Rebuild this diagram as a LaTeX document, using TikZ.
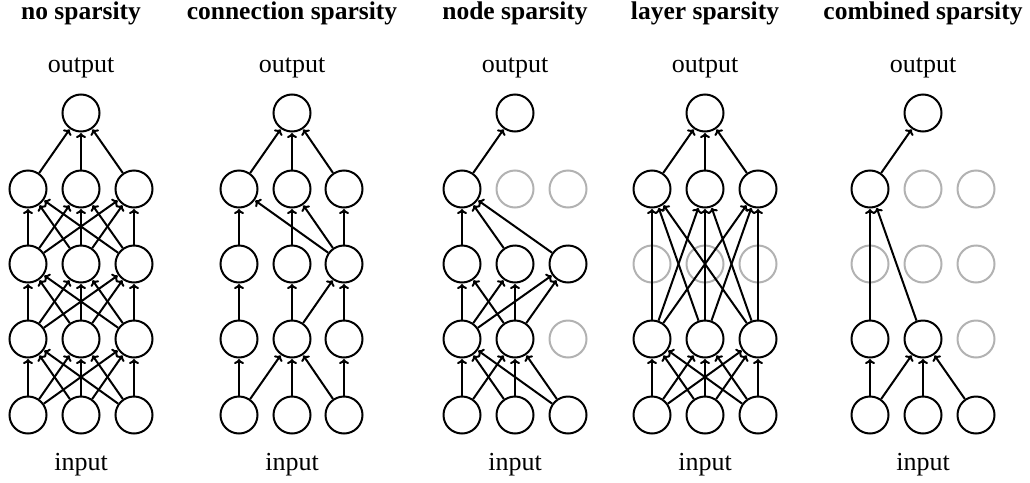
\documentclass[tikz,border=0pt]{standalone}
\usepackage{fontspec}
\setmainfont{Liberation Serif}
\usetikzlibrary{arrows.meta}
\begin{document}
\begin{tikzpicture}
    [%%%%%%%%%%%%%%%%%%%%%%%%%%%%%%
        x=1pt, y=-1pt,
        on/.style={circle,draw=black,line width=2pt,minimum size=37pt,inner sep=0pt},
        off/.style={on,draw=black!30},
        link/.style={line width=2pt,-{To[length=5pt,width=10pt]},shorten >=0.5pt},
        head/.style={font=\fontsize{25.5}{30}\selectfont\bfseries,anchor=base,inner sep=0pt},
        label/.style={font=\fontsize{26}{30}\selectfont,anchor=base,inner sep=0pt},
    ]%%%%%%%%%%%%%%%%%%%%%%%%%%%%%%
\useasboundingbox (0,0) rectangle (1030,482);

% titles and io labels
\foreach \p/\cx/\t in {a/81/no sparsity,b/292/connection sparsity,c/515/node sparsity,d/705/layer sparsity,e/923/combined sparsity}{
    \node[head] (\p head) at (\cx,19) {\t};
    \node[label] (\p outtext) at (\cx,72) {output};
    \node[label] (\p intext) at (\cx,470) {input};
    \node[on] (\p4) at (\cx,113) {};
}

% no sparsity
\foreach \r/\y/\sa/\sb/\sc in {0/415/on/on/on,1/339/on/on/on,2/264/on/on/on,3/189/on/on/on}{
    \node[\sa] (a\r1) at (28,\y) {};
    \node[\sb] (a\r2) at (81,\y) {};
    \node[\sc] (a\r3) at (134,\y) {};
}
\foreach \r/\q in {0/1,1/2,2/3}
    \foreach \i in {1,2,3}
        \foreach \j in {1,2,3}
            \draw[link] (a\r\i) -- (a\q\j);
\foreach \i in {1,2,3} \draw[link] (a3\i) -- (a4);

% connection sparsity
\foreach \r/\y/\sa/\sb/\sc in {0/415/on/on/on,1/339/on/on/on,2/264/on/on/on,3/189/on/on/on}{
    \node[\sa] (b\r1) at (239,\y) {};
    \node[\sb] (b\r2) at (292,\y) {};
    \node[\sc] (b\r3) at (344,\y) {};
}
\foreach \s/\t in {b01/b11,b01/b12,b02/b12,b03/b12,b03/b13,
                   b11/b21,b12/b22,b12/b23,b13/b23,
                   b21/b31,b22/b32,b23/b31,b23/b32,b23/b33,
                   b31/b4,b32/b4,b33/b4}
    \draw[link] (\s) -- (\t);

% node sparsity
\foreach \r/\y/\sa/\sb/\sc in {0/415/on/on/on,1/339/on/on/off,2/264/on/on/on,3/189/on/off/off}{
    \node[\sa] (c\r1) at (462,\y) {};
    \node[\sb] (c\r2) at (515,\y) {};
    \node[\sc] (c\r3) at (568,\y) {};
}
\foreach \s/\t in {c01/c11,c01/c12,c02/c11,c02/c12,c03/c11,c03/c12,
                   c11/c21,c11/c22,c11/c23,c12/c21,c12/c22,c12/c23,
                   c21/c31,c22/c31,c23/c31,c31/c4}
    \draw[link] (\s) -- (\t);

% layer sparsity
\foreach \r/\y/\sa/\sb/\sc in {0/415/on/on/on,1/339/on/on/on,2/264/off/off/off,3/189/on/on/on}{
    \node[\sa] (d\r1) at (652,\y) {};
    \node[\sb] (d\r2) at (705,\y) {};
    \node[\sc] (d\r3) at (758,\y) {};
}
\foreach \r/\q in {0/1,1/3}
    \foreach \i in {1,2,3}
        \foreach \j in {1,2,3}
            \draw[link] (d\r\i) -- (d\q\j);
\foreach \i in {1,2,3} \draw[link] (d3\i) -- (d4);

% combined sparsity
\foreach \r/\y/\sa/\sb/\sc in {0/415/on/on/on,1/339/on/on/off,2/264/off/off/off,3/189/on/off/off}{
    \node[\sa] (e\r1) at (870,\y) {};
    \node[\sb] (e\r2) at (923,\y) {};
    \node[\sc] (e\r3) at (976,\y) {};
}
\foreach \s/\t in {e01/e11,e01/e12,e02/e12,e03/e12,
                   e11/e31,e12/e31,e31/e4}
    \draw[link] (\s) -- (\t);

\end{tikzpicture}
\end{document}
